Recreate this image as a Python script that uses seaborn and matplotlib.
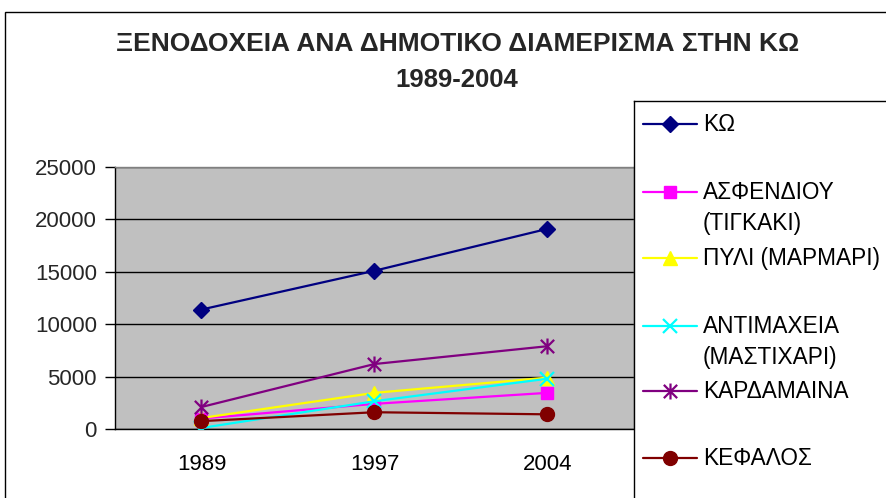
import numpy as np
import pandas as pd
import seaborn as sns
import matplotlib
matplotlib.use("Agg")
import matplotlib.pyplot as plt
from matplotlib.path import Path
from matplotlib.patches import Rectangle

# ---- data ----
years = ["1989", "1997", "2004"]
series_names = ["ΚΩ", "ΑΣΦΕΝΔΙΟΥ\n(ΤΙΓΚΑΚΙ)", "ΠΥΛΙ (ΜΑΡΜΑΡΙ)",
                "ΑΝΤΙΜΑΧΕΙΑ\n(ΜΑΣΤΙΧΑΡΙ)", "ΚΑΡΔΑΜΑΙΝΑ", "ΚΕΦΑΛΟΣ"]
kos = [11400, 15100, 19100]
asfendiou = [1000, 2400, 3450]
pyli = [1050, 3450, 4900]
antimacheia = [100, 2650, 4800]
kardamaina = [2100, 6200, 7900]
kefalos = [750, 1600, 1400]
yticks = [0, 5000, 10000, 15000, 20000, 25000]
title_line1 = "ΞΕΝΟΔΟΧΕΙΑ ΑΝΑ ΔΗΜΟΤΙΚΟ ΔΙΑΜΕΡΙΣΜΑ ΣΤΗΝ ΚΩ"
title_line2 = "1989-2004"

values = [kos, asfendiou, pyli, antimacheia, kardamaina, kefalos]
df = pd.DataFrame({
    "year": years * len(series_names),
    "value": [v for s in values for v in s],
    "series": [n for n in series_names for _ in years],
})

colors = ["#000080", "#FF00FF", "#FFFF00", "#00FFFF", "#800080", "#800000"]
asterisk = Path([(-1, -1), (1, 1), (-1, 1), (1, -1), (0, -1.2), (0, 1.2)],
                [Path.MOVETO, Path.LINETO, Path.MOVETO, Path.LINETO, Path.MOVETO, Path.LINETO])
markers = ["D", "s", "^", "x", asterisk, "o"]
msizes = [8, 9, 10, 9.5, 11.5, 10]

sns.set_theme(style="white")
plt.rcParams["font.family"] = ["Liberation Sans", "DejaVu Sans"]

W, H = 887, 498
fig = plt.figure(figsize=(W / 100, H / 100), dpi=100)

# outer chart border
fig.patches.append(Rectangle((5 / W, -0.1), 1.5, 1 - 12 / H + 0.1, transform=fig.transFigure,
                             fill=False, ec="black", lw=1.0, zorder=0))

ax = fig.add_axes([115 / W, (H - 429) / H, (634 - 115) / W, (429 - 167) / H])
ax.set_facecolor("#C0C0C0")

for i, name in enumerate(series_names):
    sub = df[df["series"] == name]
    sns.lineplot(data=sub, x="year", y="value", ax=ax, color=colors[i],
                 marker=markers[i], markersize=msizes[i], markeredgecolor=colors[i],
                 markerfacecolor=colors[i], markeredgewidth=1.6 if i in (3, 4) else 1.0,
                 linewidth=1.6, legend=False, zorder=3)

ax.set_xlim(-0.5, 2.5)
ax.set_ylim(0, 25000)
ax.set_yticks(yticks)
ax.set_yticklabels([str(t) for t in yticks])
ax.yaxis.grid(True, color="black", linewidth=1.0)
ax.set_axisbelow(True)
ax.set_xticks([0, 1, 2])
ax.set_xticklabels(years)
ax.set_xticks([0.5, 1.5], minor=True)
ax.tick_params(axis="x", which="major", length=0, pad=18, labelsize=16, colors="black")
ax.tick_params(axis="x", which="minor", length=7, width=1, direction="out", color="black")
ax.tick_params(axis="y", length=7, width=1, direction="out", color="black", pad=6,
               labelsize=16, left=True)
ax.set_xlabel("")
ax.set_ylabel("")
for side in ["left", "bottom"]:
    ax.spines[side].set_color("black")
    ax.spines[side].set_linewidth(1.0)
for side in ["top", "right"]:
    ax.spines[side].set_color("#808080")
    ax.spines[side].set_linewidth(1.0)

# title
fig.text(458 / W, 1 - 44 / H, title_line1, ha="center", va="center",
         fontsize=19, fontweight="bold")
fig.text(457 / W, 1 - 80 / H, title_line2, ha="center", va="center",
         fontsize=18.5, fontweight="bold")

# legend box (pixel coordinates)
lx0, ly0 = 634, 101
lax = fig.add_axes([lx0 / W, -30 / H, (W + 30 - lx0) / W, (H - ly0 + 30) / H], zorder=5)
lax.set_xlim(lx0, W + 30)
lax.set_ylim(H + 30, ly0)
lax.set_facecolor("white")
lax.set_xticks([])
lax.set_yticks([])
for s in lax.spines.values():
    s.set_color("black")
    s.set_linewidth(1.0)
entry_y = [124, 192, 258, 326, 391, 458]
for i, name in enumerate(series_names):
    y = entry_y[i]
    lax.plot([643, 697], [y, y], color=colors[i], linewidth=1.6)
    lax.plot([670], [y], color=colors[i], marker=markers[i], markersize=msizes[i],
             markeredgecolor=colors[i], markerfacecolor=colors[i],
             markeredgewidth=1.6 if i in (3, 4) else 1.0, linestyle="none")
    lax.text(703, y - 11, name, ha="left", va="top", fontsize=16.3,
             linespacing=1.45, color="black")

fig.savefig("out.png", dpi=100)
